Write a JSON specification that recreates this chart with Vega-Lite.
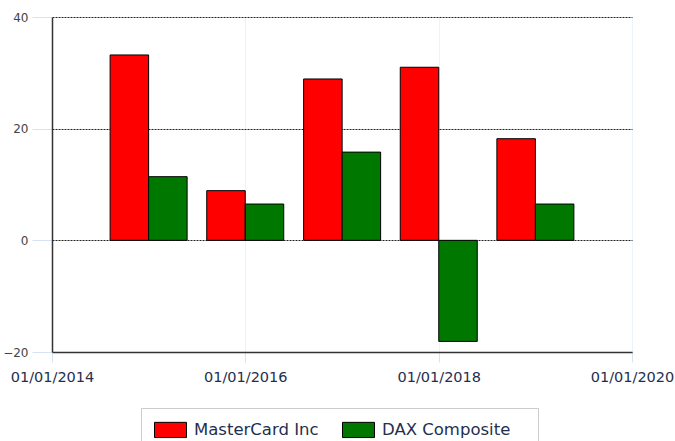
{
  "$schema": "https://vega.github.io/schema/vega-lite/v6.json",
  "autosize": "none",
  "width": 580,
  "height": 335,
  "padding": {"left": 52, "top": 17, "right": 43, "bottom": 89},
  "background": "white",
  "config": {
    "view": {"stroke": null},
    "font": "DejaVu Sans"
  },
  "data": {
    "values": [
      {"date": "2015-01-01", "series": "MasterCard Inc", "value": 33.2},
      {"date": "2016-01-01", "series": "MasterCard Inc", "value": 8.9},
      {"date": "2017-01-01", "series": "MasterCard Inc", "value": 28.9},
      {"date": "2018-01-01", "series": "MasterCard Inc", "value": 31.0},
      {"date": "2019-01-01", "series": "MasterCard Inc", "value": 18.2},
      {"date": "2015-01-01", "series": "DAX Composite", "value": 11.4},
      {"date": "2016-01-01", "series": "DAX Composite", "value": 6.5},
      {"date": "2017-01-01", "series": "DAX Composite", "value": 15.8},
      {"date": "2018-01-01", "series": "DAX Composite", "value": -18.1},
      {"date": "2019-01-01", "series": "DAX Composite", "value": 6.5}
    ]
  },
  "encoding": {
    "x": {
      "field": "date",
      "type": "temporal",
      "scale": {"domain": ["2014-01-01", "2020-01-01"], "padding": 0, "nice": false},
      "axis": {
        "title": null,
        "values": ["2014-01-01", "2016-01-01", "2018-01-01", "2020-01-01"],
        "labelExpr": "utcFormat(datum.value, '%m/%d/%Y')",
        "labelFont": "DejaVu Sans",
        "labelFontSize": 14.5,
        "labelColor": "#1f2f4f",
        "labelPadding": 8,
        "labelFlush": false,
        "labelOverlap": false,
        "domainColor": "#333333",
        "domainWidth": 1.5,
        "tickColor": "#d4e4f4",
        "tickSize": 10,
        "grid": true,
        "gridColor": "#d6e6f6",
        "gridDash": [1, 1]
      }
    },
    "y": {
      "field": "value",
      "type": "quantitative",
      "scale": {"domain": [-20, 40], "nice": false, "zero": false},
      "axis": {
        "title": null,
        "values": [-20, 0, 20, 40],
        "labelFont": "DejaVu Sans",
        "labelFontSize": 12,
        "labelColor": "#444444",
        "labelPadding": 4,
        "domainColor": "#333333",
        "domainWidth": 1.5,
        "tickColor": "#d4e4f4",
        "tickSize": 20,
        "grid": true,
        "gridColor": "#222222",
        "gridDash": [2, 1],
        "gridOpacity": 1
      }
    },
    "color": {
      "field": "series",
      "type": "nominal",
      "scale": {"domain": ["MasterCard Inc", "DAX Composite"], "range": ["#ff0000", "#007800"]},
      "legend": {
        "title": "\u2003",
        "titleOrient": "right",
        "titleFontSize": 14,
        "titlePadding": 15,
        "orient": "none",
        "legendX": 89,
        "legendY": 391,
        "direction": "horizontal",
        "symbolType": "M-1,-0.95H3V0.95H-1Z",
        "symbolSize": 256,
        "symbolStrokeColor": "#000000",
        "symbolStrokeWidth": 1,
        "symbolOpacity": 1,
        "labelFont": "DejaVu Sans",
        "labelFontSize": 16.5,
        "labelColor": "#1f2f4f",
        "labelOffset": 23,
        "columnPadding": 21,
        "padding": 13,
        "strokeColor": "#cccccc",
        "fillColor": "white"
      }
    }
  },
  "layer": [
    {
      "transform": [{"filter": "datum.series === 'MasterCard Inc'"}],
      "mark": {"type": "bar", "width": 38.5, "xOffset": -19.25, "stroke": "#000000", "strokeWidth": 1}
    },
    {
      "transform": [{"filter": "datum.series === 'DAX Composite'"}],
      "mark": {"type": "bar", "width": 38.5, "xOffset": 19.25, "stroke": "#000000", "strokeWidth": 1}
    }
  ]
}
